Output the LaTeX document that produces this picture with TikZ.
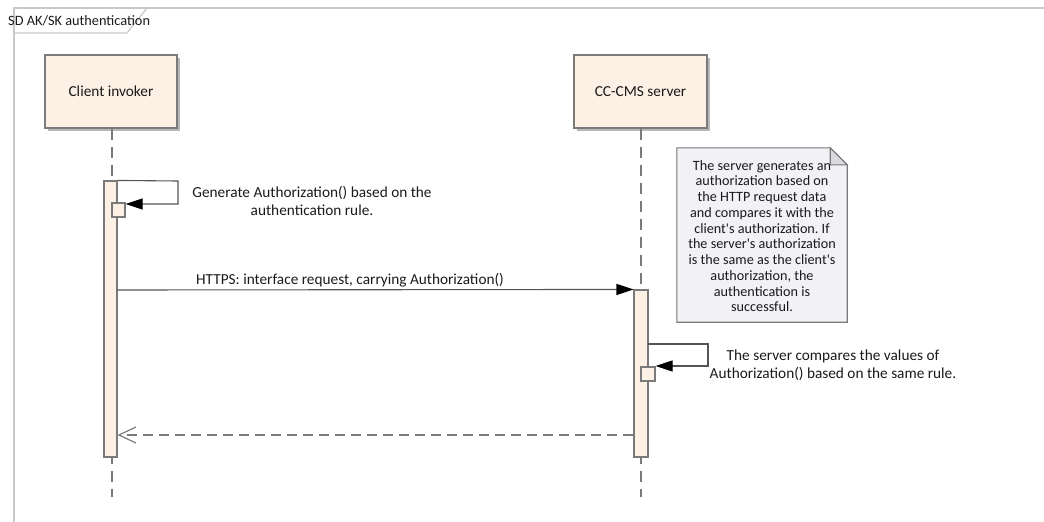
\documentclass[tikz,border=0pt]{standalone}
\usepackage{fontspec}
\setmainfont{Carlito}[Ligatures=TeXOff]
\frenchspacing
\usetikzlibrary{arrows.meta,shadows}
\definecolor{peach}{HTML}{FDF0E5}
\definecolor{notefill}{HTML}{F2F1F6}
\definecolor{foldfill}{HTML}{DADADF}
\definecolor{linegray}{HTML}{7A7A7A}
\definecolor{framegray}{HTML}{C8C8C8}
\definecolor{txt}{HTML}{1A1A1A}
\definecolor{msggray}{HTML}{555555}
\tikzset{
  participant/.style={draw=linegray, line width=1.2pt, fill=peach, minimum width=132pt, minimum height=73pt, inner sep=0pt, text=txt,
    drop shadow={shadow xshift=3pt, shadow yshift=-3pt, fill=gray!70, opacity=0.8}},
  actbar/.style={draw=linegray, line width=1.1pt, fill=peach, inner sep=0pt},
  lifeline/.style={draw=linegray, line width=1.3pt, dash pattern=on 11pt off 7pt},
  msg/.style={draw=msggray, line width=1.1pt, -{Triangle[length=17pt,width=11pt,color=black,fill=black]}},
  retmsg/.style={draw=linegray, line width=1.2pt, dash pattern=on 10pt off 6pt, -{Straight Barb[length=17pt,width=16pt,line width=1.2pt]}},
  lbl/.style={text=txt, align=center, font=\fontsize{15.3}{18}\selectfont, inner sep=0pt},
}
\begin{document}
\begin{tikzpicture}[x=1pt,y=-1pt]
\useasboundingbox (0,0) rectangle (1044,522);
% frame
\draw[framegray, line width=1.2pt] (14,522) -- (14,8) -- (1044,8);
\draw[framegray, line width=1.2pt] (14,33) -- (127,33) -- (147,8);
\node[lbl, anchor=west, font=\fontsize{14.3}{17}\selectfont] (title) at (8,21) {SD AK/SK authentication};

% participants
\node[participant] (client) at (111,91.5) {\fontsize{15.3}{18}\selectfont Client invoker};
\node[participant, minimum width=133pt] (server) at (640.5,91.5) {\fontsize{15.3}{18}\selectfont CC-CMS server};

% lifeline ends
\coordinate (cend) at (112,497);
\coordinate (send) at (641,497);
\draw[lifeline] (client.south -| cend) -- (cend);
\draw[lifeline] (server.south -| send) -- (send);

% activation bars
\node[actbar, minimum width=13pt, minimum height=276pt] (cbar) at (110.5,319) {};
\node[actbar, minimum width=14pt, minimum height=167pt] (sbar) at (641,373.5) {};

% client self message
\node[actbar, minimum width=13pt, minimum height=14pt] (cbox) at (118.5,210) {};
\coordinate (cs1) at (178,181);
\coordinate (cs2) at (178,204);
\draw[msg] (cbar.north east) -- (cs1) -- (cs2) -- (cbox.east |- cs2);
\node[lbl] (clabel) at (312,201) {Generate Authorization() based on the\\authentication rule.};

% request
\coordinate (req) at (117,290);
\draw[msg] (req) -- (sbar.north west);
\node[lbl, anchor=base] (reqlabel) at (350,284) {HTTPS: interface request, carrying Authorization()};

% note
\node[minimum width=170pt, minimum height=174pt, inner sep=0pt] (note) at (762,235) {};
\fill[gray!70, opacity=0.8, shift={(3,3)}] (note.north west) -- ([xshift=-17pt]note.north east) -- ([yshift=-17pt]note.north east) -- (note.south east) -- (note.south west) -- cycle;
\draw[linegray, line width=1.1pt, fill=notefill] (note.north west) -- ([xshift=-17pt]note.north east) -- ([yshift=-17pt]note.north east) -- (note.south east) -- (note.south west) -- cycle;
\draw[linegray, line width=1.1pt, fill=foldfill] ([xshift=-17pt]note.north east) -- ([xshift=-17pt,yshift=-17pt]note.north east) -- ([yshift=-17pt]note.north east) -- cycle;
\node[lbl, font=\fontsize{14.2}{15.75}\selectfont] (notetext) at (762,236) {The server generates an\\authorization based on\\the HTTP request data\\and compares it with the\\client's authorization. If\\the server's authorization\\is the same as the client's\\authorization, the\\authentication is\\successful.};

% server self message
\node[actbar, minimum width=14pt, minimum height=14pt] (sbox) at (648,374) {};
\coordinate (ss0) at (648,344);
\coordinate (ss1) at (708,344);
\coordinate (ss2) at (708,366);
\draw[msg] (ss0) -- (ss1) -- (ss2) -- (sbox.east |- ss2);
\node[lbl] (slabel) at (833,365) {The server compares the values of\\Authorization() based on the same rule.};

% return
\coordinate (ret) at (633,435);
\draw[retmsg] (ret) -- (cbar.east |- ret);
\end{tikzpicture}
\end{document}
